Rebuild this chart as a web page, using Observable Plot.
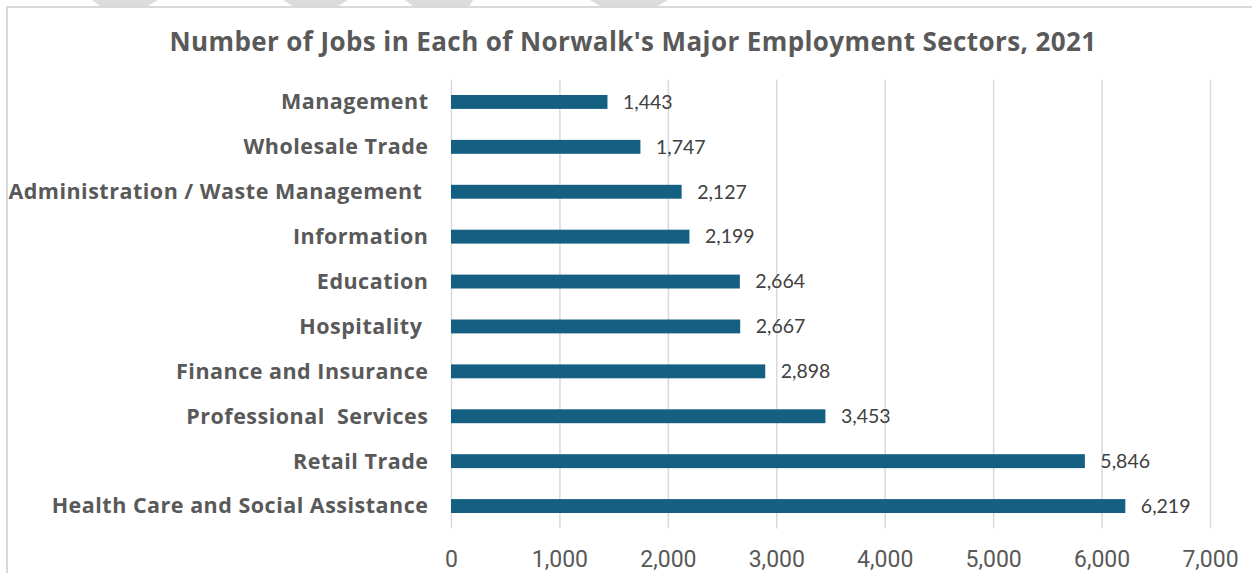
<!DOCTYPE html>
<html>
<head>
<meta charset="utf-8">
<script src="https://cdn.jsdelivr.net/npm/d3@7"></script>
<script src="https://cdn.jsdelivr.net/npm/@observablehq/plot@0.6"></script>
<style>
  html, body { margin: 0; padding: 0; background: #fff; }
  body { width: 1252px; height: 573px; overflow: hidden; position: relative; }
  .frame { position: absolute; left: 6px; top: 6px; width: 1260px; height: 600px; border: 2px solid #d9d9d9; box-sizing: border-box; pointer-events: none; }
  .stripe { position: absolute; top: 0; height: 6px; background: #dcdcdc; }
  .title { height: 70px; box-sizing: border-box; padding-top: 26px; text-align: center; padding-left: 14px; letter-spacing: 0.4px;
           font-family: "Open Sans", sans-serif; font-weight: 700; font-size: 26px; color: #595959; line-height: 30px; white-space: nowrap; }
  #chart svg { display: block; }
  #chart g[aria-label="y-axis tick label"] { letter-spacing: 0.5px; }
</style>
</head>
<body>
<div class="stripe" style="left:92px;width:66px;clip-path:polygon(0 0,100% 0,85% 100%,12% 100%)"></div>
<div class="stripe" style="left:283px;width:65px;clip-path:polygon(0 0,100% 0,85% 100%,15% 100%)"></div>
<div class="stripe" style="left:405px;width:68px;clip-path:polygon(0 0,100% 0,95% 100%,12% 100%)"></div>
<div class="stripe" style="left:590px;width:78px;clip-path:polygon(0 0,100% 0,87% 100%,13% 100%)"></div>
<div class="frame"></div>
<div class="title">Number of Jobs in Each of Norwalk's Major Employment Sectors, 2021</div>
<div id="chart"></div>
<script>
const sectors = [
  "Management",
  "Wholesale Trade",
  "Administration / Waste Management\u00a0",
  "Information",
  "Education",
  "Hospitality\u00a0",
  "Finance and Insurance",
  "Professional\u00a0 Services",
  "Retail Trade",
  "Health Care and Social Assistance"
];
const jobs = [1443, 1747, 2127, 2199, 2664, 2667, 2898, 3453, 5846, 6219];
const xTicks = [0, 1000, 2000, 3000, 4000, 5000, 6000, 7000];

const data = sectors.map((s, i) => ({sector: s, jobs: jobs[i]}));
const fmt = d3.format(",");

const chart = Plot.plot({
  width: 1252,
  height: 503,
  marginTop: 9.5,
  marginBottom: 44.5,
  marginLeft: 451,
  marginRight: 42,
  style: {background: "transparent", overflow: "visible"},
  x: {domain: [0, 7000]},
  y: {domain: sectors, padding: 0, round: false},
  marks: [
    Plot.ruleX(xTicks, {stroke: "#d9d9d9", strokeWidth: 1.5}),
    Plot.barX(data, {x: "jobs", y: "sector", fill: "#156082", insetTop: 15.5, insetBottom: 15.5}),
    Plot.text(data, {x: "jobs", y: "sector", text: d => fmt(d.jobs), textAnchor: "start", dx: 15,
      fill: "#404040", fontSize: 19.5, fontFamily: "Lato, sans-serif"}),
    Plot.axisY({tickSize: 0, tickPadding: 23, fontSize: 21.5, fontWeight: 700, color: "#595959",
      fontFamily: "'Open Sans', sans-serif", label: null}),
    Plot.axisX({ticks: xTicks, tickFormat: fmt, tickSize: 0, tickPadding: 22, fontSize: 23,
      color: "#595959", fontFamily: "Roboto, sans-serif", label: null})
  ]
});
document.getElementById("chart").appendChild(chart);
</script>
</body>
</html>
